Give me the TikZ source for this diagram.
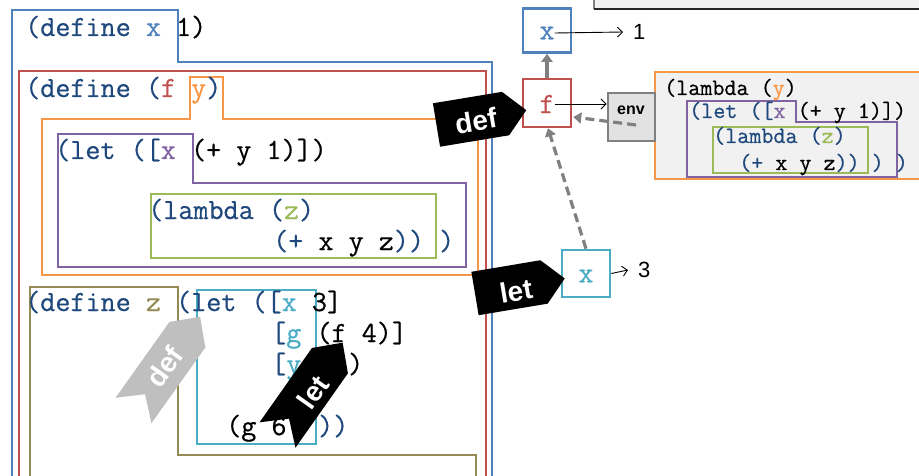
\documentclass[tikz,border=0pt]{standalone}
\usepackage{fontspec}
\setsansfont{Liberation Sans}
\newfontfamily\codefont[FakeBold=0.6]{Latin Modern Mono}
\usetikzlibrary{arrows.meta}
\definecolor{cblue}{RGB}{79,129,189}
\definecolor{cred}{RGB}{192,80,77}
\definecolor{corange}{RGB}{247,150,70}
\definecolor{cpurple}{RGB}{128,100,162}
\definecolor{cgreen}{RGB}{155,187,89}
\definecolor{colive}{RGB}{148,138,84}
\definecolor{ccyan}{RGB}{75,172,198}
\definecolor{cnavy}{RGB}{31,73,125}
\definecolor{cgray}{RGB}{128,128,128}
\definecolor{ctaggray}{RGB}{191,191,191}
\definecolor{cenv}{RGB}{226,226,226}
\definecolor{cpanel}{RGB}{241,241,241}
\begin{document}
\begin{tikzpicture}[x=1pt,y=-1pt,
  box/.style={line width=2.8pt, line join=miter},
  code/.style={anchor=base west, inner sep=0pt, text=cnavy, font=\fontsize{29.3}{30}\selectfont\codefont},
  rcode/.style={anchor=base west, inner sep=0pt, text=cnavy, font=\fontsize{23.4}{24}\selectfont\codefont},
  letter/.style={inner sep=0pt, font=\fontsize{29.3}{30}\selectfont\codefont},
  membox/.style={draw, line width=2.6pt, minimum width=48pt, minimum height=44pt, inner sep=0pt},
  garrow/.style={draw=cgray, line width=3.2pt, -{Triangle[length=8pt,width=11pt]}},
  gdash/.style={garrow, dash pattern=on 9pt off 5pt},
  thinarrow/.style={draw=black, line width=0.9pt, -{Straight Barb[length=5pt,width=10pt]}},
  tagtext/.style={text=white, inner sep=0pt, font=\fontsize{28}{28}\selectfont\sffamily\bfseries},
  numlbl/.style={anchor=west, inner ysep=0pt, inner xsep=10pt, font=\fontsize{22}{22}\selectfont\sffamily}]
\useasboundingbox (0,0) rectangle (919,476);
\clip (0,0) rectangle (919,476);

% top-right panel
\fill[cpanel] (594,-2) rectangle (925,9);
\draw[cgray, line width=1.8pt] (594,-2) -- (594,9);
\draw[black!85, line width=1.8pt] (594,9) -- (925,9);

% left nested boxes
\draw[box, cblue] (12,482) -- (12,10) -- (178,10) -- (178,62) -- (492,62) -- (492,482);
\draw[box, cred] (19,482) -- (19,71) -- (486,71) -- (486,482);
\draw[box, corange] (42,275) -- (42,119) -- (190,119) -- (190,77) -- (223,77) -- (223,119) -- (478,119) -- (478,275) -- cycle;
\draw[box, cpurple] (58,134) -- (193,134) -- (193,183) -- (466,183) -- (466,267) -- (58,267) -- cycle;
\draw[box, cgreen] (151,194) rectangle (436,258);
\draw[box, colive] (30,482) -- (30,287) -- (178,287) -- (178,455) -- (476,455) -- (476,482);
\draw[box, ccyan] (197,290) rectangle (316,444);

% left code
\node[code] (l1) at (25,36) {(define \textcolor{cblue}{x} \textcolor{black}{1)}};
\node[code] (l2) at (25,97) {(define (\textcolor{cred}{f} \textcolor{corange}{y})};
\node[code] (l3) at (55,159) {(let ([\textcolor{cpurple}{x} \textcolor{black}{(+ y 1)])}};
\node[code] (l4) at (148,219) {(lambda (\textcolor{cgreen}{z})};
\node[code] (l5) at (273,250) {(+ \textcolor{black}{x y z})) )};
\node[code] (l6) at (25,311) {(define \textcolor{colive}{z} (let ([\textcolor{ccyan}{x} \textcolor{black}{3]}};
\node[code] (l7) at (271,342) {[\textcolor{ccyan}{g} \textcolor{black}{(f 4)]}};
\node[code] (l8a) at (271,373) {[\textcolor{ccyan}{y}};
\node[code, text=black] (l8b) at (348,373) {)};
\node[code, text=black] (l9a) at (226,435) {(g 6};
\node[code] (l9b) at (318,435) {))};

% right closure panel
\draw[line width=2.8pt, corange, fill=cpanel] (655,72) rectangle (930,179);
\draw[box, cpurple] (687,101) -- (796,101) -- (796,122) -- (897,122) -- (897,177) -- (687,177) -- cycle;
\draw[box, cgreen] (713,127) rectangle (868,173);
\node[rcode, text=black] (r1) at (664,95) {(lambda (\textcolor{corange}{y})};
\node[rcode] (r2) at (689,118) {(let ([\textcolor{cpurple}{x} \textcolor{black}{(+ y 1)])}};
\node[rcode] (r3) at (713,143) {(lambda (\textcolor{cgreen}{z})};
\node[rcode] (r4) at (739,170) {(+ \textcolor{black}{x y z})) ) )};

% memory boxes
\node[membox, draw=cblue] (xb) at (547,30.5) {};
\node[letter, text=cblue] (xt) at (547,33) {x};
\node[membox, draw=cred, minimum height=48pt] (fb) at (547,103) {};
\node[letter, text=cred] (ft) at (547,104) {f};
\node[membox, draw=ccyan, minimum height=47pt] (cxb) at (586,273.5) {};
\node[letter, text=ccyan] (cxt) at (586,276) {x};
\node[draw=cgray, line width=2.8pt, fill=cenv, minimum width=47pt, minimum height=48pt, inner sep=0pt] (env) at (631.5,117) {};
\node[inner sep=0pt, font=\fontsize{16}{16}\selectfont\sffamily\bfseries] (envt) at (631,110) {env};

\node[numlbl] (one) at (623,32) {1};
\node[numlbl] (three) at (628,270) {3};

\draw[thinarrow] (xt.east) -- (one.west);
\draw[thinarrow] (ft.east) -- (ft.east -| env.west);
\draw[thinarrow] (cxb.east) -- (three.west);

\draw[garrow] (fb.north) -- (xb.south);
\draw[gdash] ([shift={(4.5,8)}]env.center) -- ([shift={(1,14)}]fb.east);
\draw[gdash] (cxb.north) -- ([xshift=1pt]fb.south);

% tags
\begin{scope}[shift={(436.5,125)}, rotate=9.4]
  \fill[black] (0,-22) -- (0,22) -- (70,22) -- (91,0) -- (70,-22) -- cycle;
\end{scope}
\node[tagtext, rotate=9.4] (tdef) at (476,121) {def};

\begin{scope}[shift={(475,293.5)}, rotate=9.5]
  \fill[black] (0,-22) -- (0,22) -- (70,22) -- (91,0) -- (70,-22) -- cycle;
\end{scope}
\node[tagtext, rotate=9.5] (tlet) at (516,291) {let};

\begin{scope}[shift={(133.5,410.5)}, rotate=54.6]
  \fill[ctaggray] (0,-22) -- (20,0) -- (0,22) -- (93,22) -- (115,0) -- (93,-22) -- cycle;
\end{scope}
\node[tagtext, rotate=54.6] (gdef) at (165,367) {def};

\begin{scope}[shift={(277.5,435)}, rotate=54.8]
  \fill[black] (0,-22) -- (20,0) -- (0,22) -- (91,22) -- (113,0) -- (91,-22) -- cycle;
\end{scope}
\node[tagtext, rotate=54.8] (blet) at (313,392) {let};
\end{tikzpicture}
\end{document}
